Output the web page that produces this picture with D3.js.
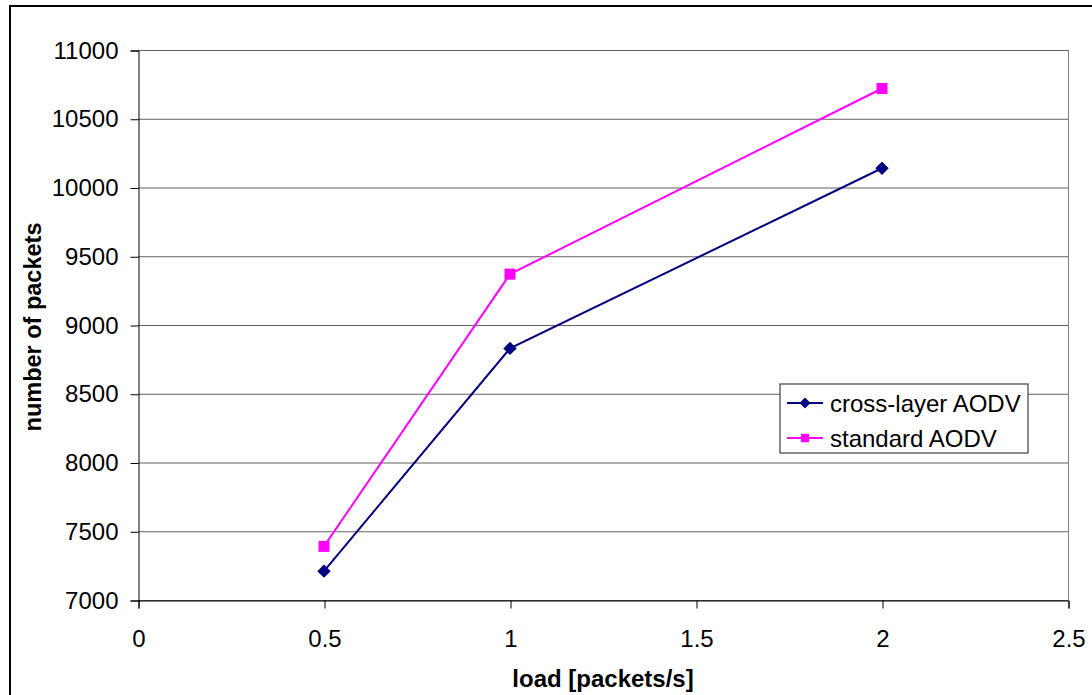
<!DOCTYPE html>
<html>
<head>
<meta charset="utf-8">
<script src="https://cdn.jsdelivr.net/npm/d3@7"></script>
<style>
  body { margin: 0; background: #fff; }
  text { font-family: "Liberation Sans", Arial, sans-serif; fill: #000; }
</style>
</head>
<body>
<svg id="chart" width="1092" height="695"></svg>
<script>
// data
const loads = [0.5, 1, 2];
const crossLayer = [7210, 8830, 10140];
const standard = [7390, 9370, 10720];
const seriesNames = ["cross-layer AODV", "standard AODV"];
const xTicks = [0, 0.5, 1, 1.5, 2, 2.5];
const yTicks = [7000, 7500, 8000, 8500, 9000, 9500, 10000, 10500, 11000];

const svg = d3.select("#chart");
const plotLeft = 138, plotRight = 1068, plotTop = 50, plotBottom = 600;

// outer frame
svg.append("rect")
  .attr("x", 10).attr("y", 6)
  .attr("width", 1100).attr("height", 720)
  .attr("fill", "none").attr("stroke", "#000").attr("stroke-width", 2);

const x = d3.scaleLinear().domain([0, 2.5]).range([plotLeft, plotRight]);
const y = d3.scaleLinear().domain([7000, 11000]).range([plotBottom, plotTop]);

// gridlines
svg.append("g")
  .selectAll("line")
  .data(yTicks)
  .enter()
  .append("line")
  .attr("x1", plotLeft).attr("x2", plotRight)
  .attr("y1", d => y(d) + 0.5).attr("y2", d => y(d) + 0.5)
  .attr("stroke", "#606060").attr("stroke-width", 1);

// right edge of plot area
svg.append("line")
  .attr("x1", plotRight + 0.5).attr("x2", plotRight + 0.5)
  .attr("y1", plotTop).attr("y2", plotBottom)
  .attr("stroke", "#808080");

const yAxis = svg.append("g")
  .attr("transform", "translate(" + (plotLeft + 0.5) + ",0.5)")
  .call(d3.axisLeft(y).tickValues(yTicks).tickSize(8).tickPadding(12).tickFormat(d3.format("d")));
yAxis.selectAll("text").style("font-size", "24px");

const xAxis = svg.append("g")
  .attr("transform", "translate(0.5," + (plotBottom + 0.5) + ")")
  .call(d3.axisBottom(x).tickValues(xTicks).tickSize(8).tickPadding(21).tickFormat(d => d));
xAxis.selectAll("text").style("font-size", "24px");
svg.selectAll(".domain").attr("stroke", "#000");
svg.selectAll(".tick line").attr("stroke", "#000");

// axis titles
svg.append("text")
  .attr("x", 603).attr("y", 687)
  .attr("text-anchor", "middle")
  .style("font-size", "24px").style("font-weight", "bold")
  .text("load [packets/s]");

svg.append("text")
  .attr("transform", "translate(41,327) rotate(-90)")
  .attr("text-anchor", "middle")
  .style("font-size", "23.5px").style("font-weight", "bold")
  .text("number of packets");

const line = d3.line()
  .x(d => x(d[0]))
  .y(d => y(d[1]));

const series = [
  { name: seriesNames[0], values: crossLayer, color: "#000080", rot: 45, size: 90, legSize: 60 },
  { name: seriesNames[1], values: standard, color: "#ff00ff", rot: 0, size: 121, legSize: 70 }
];

series.forEach(function (s) {
  const pts = loads.map((l, i) => [l, s.values[i]]);
  svg.append("path")
    .datum(pts)
    .attr("d", line)
    .attr("fill", "none")
    .attr("stroke", s.color)
    .attr("stroke-width", 2);
  svg.append("g")
    .selectAll("path")
    .data(pts)
    .enter()
    .append("path")
    .attr("d", d3.symbol().type(d3.symbolSquare).size(s.size))
    .attr("transform", d => "translate(" + x(d[0]) + "," + y(d[1]) + ") rotate(" + s.rot + ")")
    .attr("fill", s.color);
});

// legend
const lg = svg.append("g").attr("transform", "translate(780,384)");
lg.append("rect")
  .attr("width", 248).attr("height", 69)
  .attr("fill", "#fff").attr("stroke", "#404040").attr("stroke-width", 1.2);
series.forEach(function (s, i) {
  const cy = 19 + i * 35;
  lg.append("line")
    .attr("x1", 7).attr("x2", 43)
    .attr("y1", cy).attr("y2", cy)
    .attr("stroke", s.color).attr("stroke-width", 2);
  lg.append("path")
    .attr("d", d3.symbol().type(d3.symbolSquare).size(s.legSize))
    .attr("transform", "translate(25," + cy + ") rotate(" + s.rot + ")")
    .attr("fill", s.color);
  lg.append("text")
    .attr("x", 50).attr("y", cy + 8.5)
    .style("font-size", "24px")
    .text(s.name);
});
</script>
</body>
</html>
